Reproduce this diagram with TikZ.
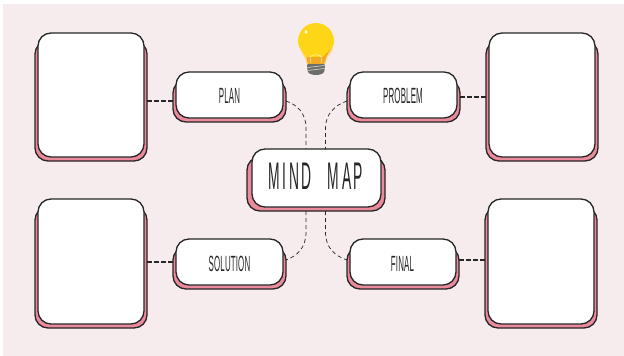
\documentclass[tikz,border=0pt]{standalone}
\usepackage{fontspec}
\setmainfont{Liberation Sans}
\newfontfamily\thinfont[FakeStretch=0.36]{Liberation Sans}
\definecolor{bgpink}{HTML}{F6ECEE}
\definecolor{rosefill}{HTML}{EA8A9B}
\definecolor{inkline}{HTML}{262626}
\definecolor{bulbyel}{HTML}{FFD617}
\definecolor{bulborg}{HTML}{F2A922}
\definecolor{bulbgrey}{HTML}{6E6E68}
\tikzset{
  backcard/.style={draw=inkline,fill=rosefill,line width=1.3pt,rounded corners=13pt,inner sep=0pt,outer sep=0pt},
  frontcard/.style={draw=inkline,fill=white,line width=1.3pt,rounded corners=13pt,inner sep=0pt,outer sep=0pt},
  bigdash/.style={inkline,line width=1.5pt,dash pattern=on 5pt off 2pt},
  thindash/.style={inkline,line width=0.7pt,dash pattern=on 4pt off 3pt},
  smalllabel/.style={text=inkline,font=\thinfont\fontsize{22}{22}\selectfont,inner sep=0pt},
  titlelabel/.style={text=inkline,font=\thinfont\fontsize{38.5}{39}\selectfont,inner sep=0pt},
}
\newcommand{\twocards}[9]{%
  \node[backcard,minimum width=#4-#2,minimum height=#5-#3,anchor=north west] (#1back) at (#2,#3) {};
  \node[frontcard,minimum width=#8-#6,minimum height=#9-#7,anchor=north west] (#1) at (#6,#7) {};}
\newcommand{\spreadgap}{\kern0.15pt}
\newcommand{\titlegap}{\kern2.6pt}
\begin{document}
\begin{tikzpicture}[x=1pt,y=-1pt]
\useasboundingbox (0,0) rectangle (624,356);
\fill[white] (0,0) rectangle (624,356);
\fill[bgpink] (3,4) rectangle (624,356);
% big boxes
\twocards{bigA}{35}{41}{147}{161}{38}{33}{144}{157}
\twocards{bigB}{486}{41}{598}{161}{489}{33}{595}{157}
\twocards{bigC}{35}{207}{147}{328}{38}{199}{144}{324}
\twocards{bigD}{485}{207}{597}{328}{488}{199}{594}{324}
% medium boxes
\twocards{plan}{173}{80}{286}{122}{176}{72}{283}{118}
\twocards{problem}{347}{80}{460}{122}{350}{72}{457}{118}
\twocards{solution}{173}{247}{286}{289}{176}{239}{283}{285}
\twocards{final}{347}{247}{459}{289}{350}{239}{456}{285}
% centre
\twocards{centre}{247}{157}{385}{211}{252}{149}{381}{207}
% labels
\node[smalllabel] (planlabel) at (229.5,96) {P\spreadgap L\spreadgap A\spreadgap N};
\node[smalllabel] (problemlabel) at (403,96) {P\spreadgap R\spreadgap O\spreadgap B\spreadgap L\spreadgap E\spreadgap M};
\node[smalllabel] (solutionlabel) at (229.5,264) {S\spreadgap O\spreadgap L\spreadgap U\spreadgap T\spreadgap I\spreadgap O\spreadgap N};
\node[smalllabel] (finallabel) at (402.5,264) {F\spreadgap I\spreadgap N\spreadgap A\spreadgap L};
\node[titlelabel] (titlelabel) at (316,176.5) {M\titlegap I\titlegap N\titlegap D\kern16pt M\titlegap A\titlegap P};
% thick dashes
\draw[bigdash] (bigAback.east) -- (planback.west);
\draw[bigdash] ([yshift=4pt]problemback.east) -- ([yshift=4pt]problemback.east -| bigBback.west);
\draw[bigdash] ([yshift=6pt]solutionback.west -| bigCback.east) -- ([yshift=6pt]solutionback.west);
\draw[bigdash] ([yshift=8pt]finalback.east) -- ([yshift=8pt]finalback.east -| bigDback.west);
% thin curves
\coordinate (cA) at (306,149);
\coordinate (cB) at (325.5,149);
\coordinate (cC) at (306,211);
\coordinate (cD) at (325.5,211);
\draw[thindash] (planback.east) .. controls (298,105) and (306,114) .. (306,128) -- (cA);
\draw[thindash] (problemback.west) .. controls (335,105) and (325.5,114) .. (325.5,128) -- (cB);
\draw[thindash] (cC) -- (306,232) .. controls (306,248) and (297,256) .. (286,260);
\draw[thindash] (cD) -- (325.5,232) .. controls (325.5,248) and (335,256) .. (347,260);
% bulb
\fill[bulbyel] (316,23) .. controls (326,23) and (334,31) .. (334,41) .. controls (334,49) and (328,53) .. (326,58) -- (325,64) -- (307,64) -- (306,58) .. controls (304,53) and (298,49) .. (298,41) .. controls (298,31) and (306,23) .. (316,23) -- cycle;
\fill[bulborg] (331,49) .. controls (329,52) and (327,55) .. (326,58) -- (325,64) -- (307,64) -- (306.5,57) -- (322,57) .. controls (325,55) and (328,52) .. (331,49) -- cycle;
\draw[white,line width=0.5pt,opacity=0.7] (311,63) -- (310,57) .. controls (312,54) and (320,54) .. (322,57) -- (321,63);
\draw[bulborg!55!white,line width=0.6pt] (300,47) .. controls (302,54) and (306,57) .. (308,65);
\draw[bulborg!55!white,line width=0.6pt] (333,48) .. controls (331,54) and (326,57) .. (324,65);
\fill[bulbgrey,rounded corners=1pt] (307,64) -- (325,64) -- (324.5,71) .. controls (322,76) and (310,76) .. (307.5,71) -- cycle;
\draw[white!85!black,line width=0.6pt] (307.5,67.5) -- (324.5,65.5) (307.5,70.5) -- (324.5,68.5);
\fill[white,opacity=0.9] (306,32) ellipse (1.5 and 1.9);
\end{tikzpicture}
\end{document}
